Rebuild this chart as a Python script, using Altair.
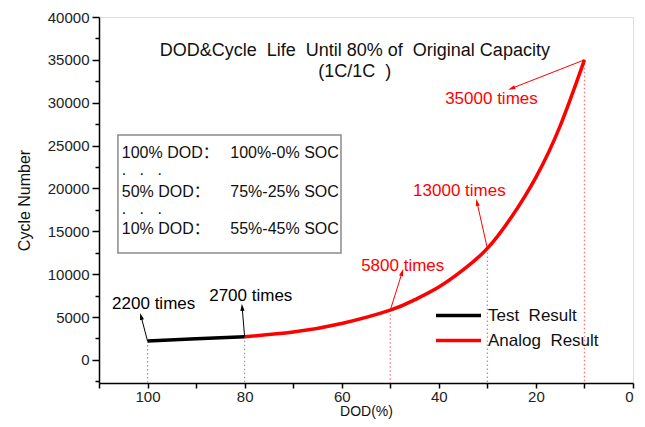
import math
import altair as alt
import pandas as pd

# ---------------- data ----------------
dod_test = [100, 90, 80]
cyc_test = [2200, 2450, 2700]

dod_analog = [80, 70, 60, 50, 45, 40, 35, 30, 25, 20, 15, 10]
cyc_analog = [2700, 3250, 4250, 5800, 7000, 8500, 10500, 13000, 16700, 21300, 27300, 35000]

series_names = ["Test\u00a0\u00a0Result", "Analog\u00a0\u00a0Result"]
series_colors = ["#000000", "#ff0000"]

drop_dod = [100, 80, 50, 30, 10]
drop_val = [2200, 2700, 5800, 13000, 35000]
drop_col = ["#999999", "#999999", "#ff7070", "#ff7070", "#ff7070"]

ann_text = ["2200 times", "2700 times", "5800 times", "13000 times", "35000 times"]
ann_col = ["#000000", "#000000", "#ff0000", "#ff0000", "#ff0000"]
ann_pt_dod = [100, 80, 50, 30, 10]
ann_pt_val = [2200, 2700, 5800, 13000, 35000]
ann_head_dod = [101.3, 80.5, 47.6, 32.1, 24.9]
ann_head_val = [5000, 6050, 10130, 18300, 31700]
ann_txt_dod = [107.3, 87.3, 56.0, 45.3, 38.7]
ann_txt_val = [6500, 7450, 10950, 19700, 30430]

title_lines = ["DOD&Cycle\u00a0\u00a0Life\u00a0\u00a0Until 80% of\u00a0\u00a0Original Capacity",
               "(1C/1C\u00a0\u00a0)"]
title_dod = [57.3, 57.3]
title_val = [36033, 33583]

box_left = ["100% DOD\uff1a", "50% DOD\uff1a", "10% DOD\uff1a"]
box_right = ["100%-0% SOC", "75%-25% SOC", "55%-45% SOC"]
box_line_val = [24190, 19580, 15270]
box_dots_val = [21567, 17017]
box_x_left = 105.3
box_x_right = 60.6
box_rect = {"x": 106.1, "x2": 60.15, "y": 26233, "y2": 12467}

y_major = list(range(0, 40001, 5000))
y_minor = list(range(-2500, 40000, 5000))
x_ticks = list(range(0, 111, 10))

X_DOM = [0, 110]
Y_DOM = [-2700, 40000]
W, H = 534, 366
PXX = W / (X_DOM[1] - X_DOM[0])
PXY = H / (Y_DOM[1] - Y_DOM[0])

FONT = "Liberation Sans, Arial, Noto Sans CJK SC"

# ---------------- scales/axes ----------------
xs = alt.Scale(domain=X_DOM, reverse=True, nice=False, zero=False)
ys = alt.Scale(domain=Y_DOM, nice=False, zero=False)

x_axis = alt.Axis(values=x_ticks, labelExpr="datum.value % 20 == 0 ? datum.label : ''",
                  title="DOD(%)", tickSize=5, labelPadding=1, labelFontSize=15,
                  titleFontSize=14, titleFontWeight="normal", titlePadding=0,
                  grid=False, domainColor="black", domainWidth=1.5, tickColor="black",
                  tickWidth=1.5, labelColor="#222222", titleColor="#111111",
                  labelFont=FONT, titleFont=FONT)
y_axis = alt.Axis(values=y_major, title="Cycle Number", tickSize=7, labelPadding=3,
                  labelFontSize=15, titleFontSize=16, titleFontWeight="normal",
                  titlePadding=15, grid=False, domainColor="black", domainWidth=1.5,
                  tickColor="black", tickWidth=1.5, labelColor="#222222",
                  titleColor="#111111", labelFont=FONT, titleFont=FONT, format="d")


def X(field):
    return alt.X(field, type="quantitative", scale=xs, axis=x_axis)


def Y(field):
    return alt.Y(field, type="quantitative", scale=ys, axis=y_axis)


# ---------------- data frames ----------------
curve = pd.DataFrame({
    "dod": dod_test + dod_analog,
    "cyc": cyc_test + cyc_analog,
    "series": [series_names[0]] * len(dod_test) + [series_names[1]] * len(dod_analog),
})

drops = pd.DataFrame({"dod": drop_dod, "val": drop_val, "col": drop_col, "base": Y_DOM[0]})

angles = []
for pd_, pv, hd, hv in zip(ann_pt_dod, ann_pt_val, ann_head_dod, ann_head_val):
    dx = (pd_ - hd) * PXX
    dy = -(hv - pv) * PXY
    angles.append(math.degrees(math.atan2(dx, -dy)) % 360)

ann = pd.DataFrame({
    "text": ann_text, "col": ann_col,
    "pd": ann_pt_dod, "pv": ann_pt_val,
    "hd": ann_head_dod, "hv": ann_head_val,
    "td": ann_txt_dod, "tv": ann_txt_val,
    "ang": angles,
})

titles = pd.DataFrame({"t": title_lines, "d": title_dod, "v": title_val})
boxdf = pd.DataFrame([box_rect])
box_lines = pd.DataFrame({"l": box_left, "r": box_right, "v": box_line_val,
                          "xl": box_x_left, "xr": box_x_right})
box_dots = pd.DataFrame({"t": [".\u00a0\u00a0\u00a0.\u00a0\u00a0\u00a0."] * 2,
                         "v": box_dots_val, "xl": box_x_left})
minor = pd.DataFrame({"v": y_minor, "d": [50] * len(y_minor)})

# ---------------- layers ----------------
drop_layer = alt.Chart(drops).mark_rule(strokeWidth=1.2, strokeDash=[1.5, 2.5]).encode(
    x=X("dod"), y=Y("val"), y2="base:Q", color=alt.Color("col:N", scale=None))

line_layer = alt.Chart(curve).mark_line(strokeWidth=3.5, interpolate="natural").encode(
    x=X("dod"), y=Y("cyc"),
    color=alt.Color("series:N",
                    scale=alt.Scale(domain=series_names, range=series_colors),
                    legend=alt.Legend(orient="none", legendX=335, legendY=286, title=None,
                                      symbolType="stroke", symbolSize=2025,
                                      symbolStrokeWidth=3.5, labelFontSize=17,
                                      labelFont=FONT, labelColor="#111111",
                                      clipHeight=25, rowPadding=0, padding=0,
                                      labelOffset=5, labelLimit=0)),
)

arrow_layer = alt.Chart(ann).mark_rule(strokeWidth=1).encode(
    x=X("pd"), y=Y("pv"), x2="hd:Q", y2="hv:Q", color=alt.Color("col:N", scale=None))

head_layer = alt.Chart(ann).mark_point(
    shape="M0,-1L0.5,0.7L-0.5,0.7Z", filled=True, size=70, opacity=1).encode(
    x=X("hd"), y=Y("hv"), angle=alt.Angle("ang:Q", scale=None),
    color=alt.Color("col:N", scale=None))

ann_text_layer = alt.Chart(ann).mark_text(align="left", baseline="middle", fontSize=17,
                                          font=FONT).encode(
    x=X("td"), y=Y("tv"), text="text:N", color=alt.Color("col:N", scale=None))

title_layer = alt.Chart(titles).mark_text(align="center", baseline="middle", fontSize=18,
                                          font=FONT, color="#111111").encode(
    x=X("d"), y=Y("v"), text="t:N")

box_layer = alt.Chart(boxdf).mark_rect(fillOpacity=0, stroke="#8a8a8a", strokeWidth=1.5).encode(
    x=X("x"), x2="x2:Q", y=Y("y"), y2="y2:Q")

box_left_layer = alt.Chart(box_lines).mark_text(align="left", baseline="middle", fontSize=16,
                                                font=FONT, color="#111111").encode(
    x=X("xl"), y=Y("v"), text="l:N")
box_right_layer = alt.Chart(box_lines).mark_text(align="right", baseline="middle", fontSize=16,
                                                 font=FONT, color="#111111").encode(
    x=X("xr"), y=Y("v"), text="r:N")
box_dots_layer = alt.Chart(box_dots).mark_text(align="left", baseline="alphabetic", fontSize=16,
                                               font=FONT, color="#111111").encode(
    x=X("xl"), y=Y("v"), text="t:N")

main = alt.layer(drop_layer, box_layer, line_layer, arrow_layer, head_layer,
                 ann_text_layer, title_layer, box_left_layer, box_right_layer,
                 box_dots_layer)

minor_layer = alt.Chart(minor).mark_point(opacity=0).encode(
    x=X("d"),
    y=alt.Y("v:Q", scale=ys,
            axis=alt.Axis(values=y_minor, orient="left", labels=False, domain=False,
                          tickSize=4, tickWidth=1.5, tickColor="black", title=None,
                          grid=False)),
)

chart = alt.layer(main, minor_layer).resolve_axis(y="independent").properties(
    width=W, height=H,
    autosize=alt.AutoSizeParams(type="none"),
    padding={"left": 91, "top": 9, "right": 4, "bottom": 36},
).configure_view(stroke="black", strokeWidth=1.5).configure(font=FONT)

chart.save("out.html", embed_options={"renderer": "svg", "actions": False})
